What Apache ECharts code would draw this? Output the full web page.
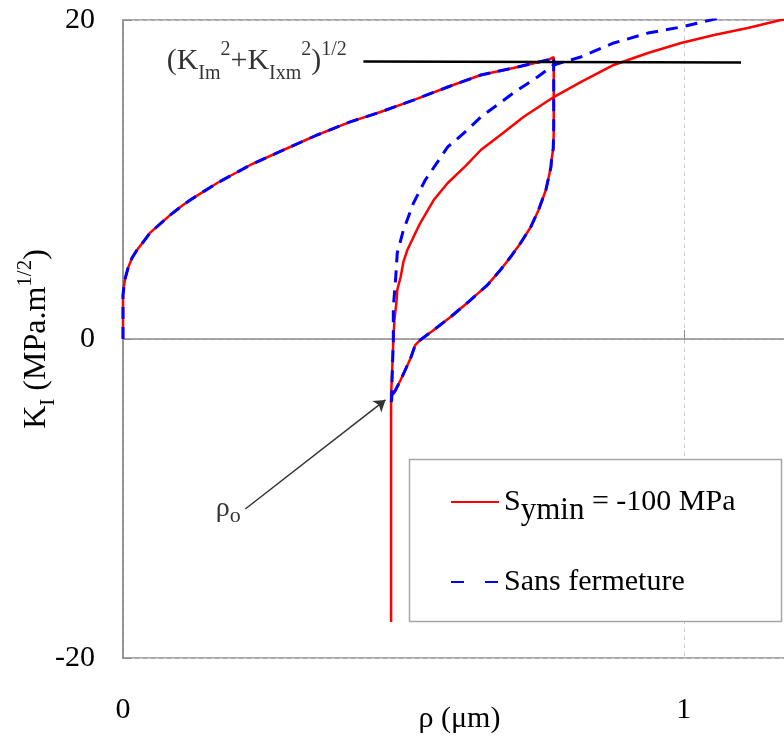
<!DOCTYPE html>
<html>
<head>
<meta charset="utf-8">
<script src="https://cdn.jsdelivr.net/npm/echarts@6/dist/echarts.min.js"></script>
<style>html,body{margin:0;padding:0;background:#fff;}#c{width:784px;height:740px;}</style>
</head>
<body>
<div id="c"></div>
<script>
// ---- Data (rho in µm, KI in MPa.m^1/2) ----
// Common loading branch
var loadX = [0, 0, 0, 0.002, 0.004, 0.009, 0.016, 0.025, 0.036, 0.048, 0.066, 0.084, 0.107, 0.120, 0.168, 0.227, 0.286, 0.346, 0.405, 0.459, 0.518, 0.579, 0.638, 0.696, 0.757, 0.768];
var loadY = [0, 1.82, 2.76, 3.39, 3.82, 4.45, 5.08, 5.58, 6.08, 6.65, 7.21, 7.77, 8.40, 8.72, 9.78, 10.91, 11.85, 12.79, 13.61, 14.23, 14.98, 15.80, 16.55, 16.99, 17.49, 17.68];
// Common unloading branch (down to rho_o)
var unloadX = [0.768, 0.768, 0.767, 0.764, 0.763, 0.754, 0.741, 0.727, 0.709, 0.691, 0.673, 0.650, 0.620, 0.584, 0.554, 0.530, 0.521, 0.513, 0.495, 0.486, 0.480, 0.478];
var unloadY = [14.98, 12.92, 11.9, 11.22, 10.78, 9.34, 8.09, 7.02, 6.02, 5.14, 4.33, 3.39, 2.45, 1.38, 0.56, -0.06, -0.38, -1.19, -2.57, -3.20, -3.51, -3.95];
// Symin = -100 MPa : compression at constant rho, then reloading
var redDownX = [0.478, 0.478, 0.478];
var redDownY = [-17.74, -3.95, -3.51];
var redReloadX = [0.480, 0.482, 0.484, 0.488, 0.489, 0.495, 0.500, 0.507, 0.518, 0.530, 0.554, 0.579, 0.611, 0.638, 0.673, 0.714, 0.768, 0.816, 0.875, 0.936, 0.995, 1.054, 1.114, 1.173, 1.19];
var redReloadY = [-1.94, -0.06, 1.19, 2.45, 3.07, 3.89, 4.83, 5.58, 6.40, 7.27, 8.71, 9.78, 10.85, 11.85, 12.79, 13.92, 15.17, 16.11, 17.18, 17.93, 18.56, 19.06, 19.50, 20.0, 20.1];
// Sans fermeture : reloading
var blueReloadX = [0.479, 0.480, 0.482, 0.482, 0.486, 0.489, 0.500, 0.518, 0.539, 0.579, 0.614, 0.638, 0.696, 0.739, 0.768, 0.816, 0.875, 0.936, 0.995, 1.048, 1.06];
var blueReloadY = [-3.82, -2.26, -0.06, 2.01, 3.70, 5.39, 6.83, 8.53, 9.97, 12.04, 13.10, 13.92, 15.42, 16.43, 17.18, 17.68, 18.56, 19.18, 19.56, 20.0, 20.1];
// (KIm^2+KIxm^2)^1/2 level line
var limitX = [0.4286, 1.102];
var limitY = [17.40, 17.33];
// rho_o arrow (tail, head)
var arrowX = [0.218, 0.468];
var arrowY = [-10.66, -3.82];
// axis ticks
var xTicks = [0, 1];
var yTicks = [-20, 0, 20];

function pairs(xs, ys) { var out = []; for (var i = 0; i < xs.length; i++) out.push([xs[i], ys[i]]); return out; }
var redData = pairs(loadX, loadY).concat(pairs(unloadX, unloadY), pairs(redDownX, redDownY), pairs(redReloadX, redReloadY));
var blueData = pairs(loadX, loadY).concat(pairs(unloadX, unloadY), pairs(blueReloadX, blueReloadY));

var FONT = 'Liberation Serif';
var chart = echarts.init(document.getElementById('c'), null, {renderer: 'canvas'});
var option = {
  animation: false,
  backgroundColor: '#fff',
  grid: {left: 123, top: 20, right: -12, bottom: 82, containLabel: false, outerBoundsMode: 'none',
    show: true, borderColor: '#8c8c8c', borderWidth: 1.5, backgroundColor: 'transparent'},
  xAxis: {
    type: 'value', min: 0, max: 1.2, interval: 1,
    axisLine: {show: true, lineStyle: {color: '#8c8c8c', width: 1.5}},
    axisTick: {show: true, inside: true, length: 9, lineStyle: {color: '#8c8c8c'}},
    splitLine: {show: true, lineStyle: {color: '#c8c8c8', type: [4, 4], width: 1}},
    axisLabel: {fontFamily: FONT, fontSize: 30, color: '#000', margin: 37, showMaxLabel: false,
      formatter: function (v) { return xTicks.indexOf(v) >= 0 ? String(v) : ''; }},
    name: 'ρ (μm)', nameLocation: 'middle', nameGap: 46, nameMoveOverlap: false,
    nameTextStyle: {fontFamily: FONT, fontSize: 30, color: '#000'}
  },
  yAxis: {
    type: 'value', min: -20, max: 20, interval: 20,
    axisLine: {show: true, lineStyle: {color: '#8c8c8c', width: 1.5}},
    axisTick: {show: true, inside: true, length: 9, lineStyle: {color: '#8c8c8c'}},
    splitLine: {show: true, lineStyle: {color: '#c8c8c8', type: [4, 4], width: 1}},
    axisLabel: {fontFamily: FONT, fontSize: 30, color: '#000', margin: 28,
      formatter: function (v) { return yTicks.indexOf(v) >= 0 ? String(v) : ''; }},
    name: '{m|K}{sub|I}{m| (MPa.m}{sup|1/2}{m|)}', nameLocation: 'middle', nameGap: 64, nameRotate: 90,
    nameMoveOverlap: false,
    nameTextStyle: {fontFamily: FONT, fontSize: 32, color: '#000',
      rich: {
        m: {fontFamily: FONT, fontSize: 32, color: '#000', lineHeight: 44, verticalAlign: 'middle'},
        sub: {fontFamily: FONT, fontSize: 21, color: '#000', lineHeight: 18, verticalAlign: 'bottom'},
        sup: {fontFamily: FONT, fontSize: 21, color: '#000', lineHeight: 14, verticalAlign: 'top'}
      }}
  },
  legend: {
    orient: 'vertical', left: 450, top: 487, padding: 0, itemGap: 41,
    itemWidth: 48, itemHeight: 14, z: 5,
    itemStyle: {opacity: 0},
    data: [
      {name: 'Symin'},
      {name: 'Sans fermeture', lineStyle: {type: [13, 21]}}
    ],
    formatter: function (name) {
      if (name === 'Symin') return '{m|S}{s|ymin}{m| = -100 MPa}';
      return '{m|Sans fermeture}';
    },
    textStyle: {fontFamily: FONT, fontSize: 30, color: '#000',
      rich: {
        m: {fontFamily: FONT, fontSize: 30, color: '#000', lineHeight: 48, verticalAlign: 'middle'},
        s: {fontFamily: FONT, fontSize: 31, color: '#000', lineHeight: 30, verticalAlign: 'bottom'}
      }}
  },
  graphic: [{
    type: 'rect', z: 3, shape: {x: 409.5, y: 459.5, width: 372, height: 162},
    style: {fill: '#fff', stroke: '#a6a6a6', lineWidth: 1.5}
  }],
  series: [
    {name: 'Symin', type: 'line', data: redData, symbol: 'none', z: 2,
      lineStyle: {color: '#ff0000', width: 2.5}, itemStyle: {color: '#ff0000'}},
    {name: 'Sans fermeture', type: 'line', data: blueData, symbol: 'none', z: 3,
      lineStyle: {color: '#0000ff', width: 3, type: [12, 8]}, itemStyle: {color: '#0000ff'}},
    {name: 'limit', type: 'line', data: pairs(limitX, limitY), symbol: 'none', z: 4,
      lineStyle: {color: '#000', width: 2.5},
      markLine: {silent: true, symbol: ['none', 'arrow'], symbolSize: 11, label: {show: false},
        lineStyle: {color: '#333', width: 1.5, type: 'solid'},
        data: [[{coord: [arrowX[0], arrowY[0]]}, {coord: [arrowX[1], arrowY[1]]}]]}},
    {name: 'labels', type: 'scatter', symbolSize: 1, itemStyle: {color: 'rgba(0,0,0,0)'}, z: 5,
      data: [
        {value: [limitX[0], limitY[0]], label: {show: true, position: 'left', distance: 16,
          formatter: '{m|(K}{sub|Im}{sup|2}{m|+K}{sub|Ixm}{sup|2}{m|)}{sup|1/2}',
          rich: {
            m: {fontFamily: FONT, fontSize: 30, color: '#000', lineHeight: 44, verticalAlign: 'middle'},
            sub: {fontFamily: FONT, fontSize: 20, color: '#000', lineHeight: 18, verticalAlign: 'bottom'},
            sup: {fontFamily: FONT, fontSize: 20, color: '#000', lineHeight: 14, verticalAlign: 'top'}
          }}},
        {value: [arrowX[0], arrowY[0]], label: {show: true, position: 'left', distance: 4,
          formatter: '{m|ρ}{sub|o}',
          rich: {
            m: {fontFamily: FONT, fontSize: 28, color: '#000', lineHeight: 36, verticalAlign: 'middle'},
            sub: {fontFamily: FONT, fontSize: 22, color: '#000', lineHeight: 22, verticalAlign: 'bottom'}
          }}}
      ]}
  ]
};
chart.setOption(option);
</script>
</body>
</html>
